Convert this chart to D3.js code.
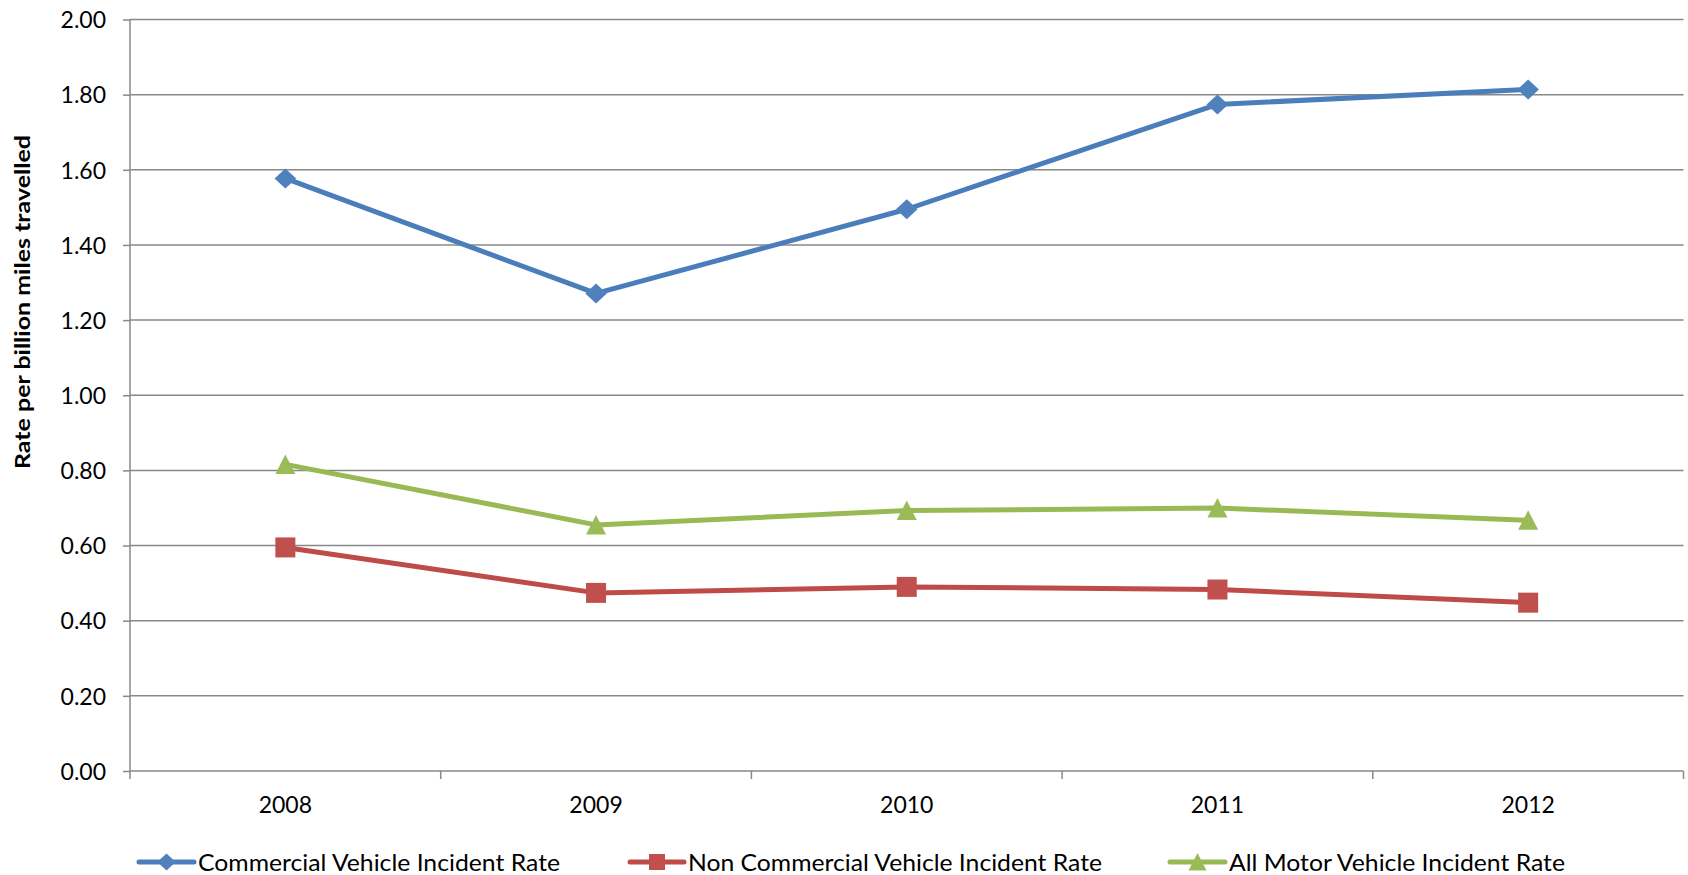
<!DOCTYPE html>
<html>
<head>
<meta charset="utf-8">
<script src="https://cdn.jsdelivr.net/npm/d3@7"></script>
<style>
  html, body { margin: 0; padding: 0; background: #fff; }
  svg { display: block; }
  text { font-family: Lato, "Open Sans", sans-serif; fill: #000; }
</style>
</head>
<body>
<svg id="chart" width="1688" height="875"></svg>
<script>
// Incident rates per billion miles travelled, 2008-2012
const years = ["2008", "2009", "2010", "2011", "2012"];
const commercialRate    = [1.577, 1.271, 1.495, 1.774, 1.814];
const nonCommercialRate = [0.595, 0.474, 0.490, 0.483, 0.448];
const allMotorRate      = [0.816, 0.655, 0.693, 0.700, 0.667];
const seriesNames = [
  "Commercial Vehicle Incident Rate",
  "Non Commercial Vehicle Incident Rate",
  "All Motor Vehicle Incident Rate"
];
const yTicks = [0, 0.2, 0.4, 0.6, 0.8, 1.0, 1.2, 1.4, 1.6, 1.8, 2.0];
const yTitle = "Rate per billion miles travelled";

const svg = d3.select("#chart");
const plot = { left: 130, right: 1683.5, top: 19.5, bottom: 771 };

const x = d3.scaleBand().domain(years).range([plot.left, plot.right]).padding(0);
const y = d3.scaleLinear().domain([0, 2]).range([plot.bottom, plot.top]);
const cx = d => x(d) + x.bandwidth() / 2;

const gridColor = "#888888";

// horizontal gridlines
svg.append("g").selectAll("line")
  .data(yTicks.filter(v => v > 0))
  .join("line")
  .attr("x1", plot.left).attr("x2", plot.right)
  .attr("y1", d => y(d)).attr("y2", d => y(d))
  .attr("stroke", gridColor).attr("stroke-width", 1.5);

// value axis
const yAxis = d3.axisLeft(y).tickValues(yTicks).tickFormat(d3.format(".2f"))
  .tickSize(7).tickPadding(17);
const gy = svg.append("g").attr("transform", `translate(${plot.left},0)`).call(yAxis);
gy.select(".domain").remove();
gy.selectAll(".tick line").attr("stroke", gridColor).attr("stroke-width", 1.5);
gy.selectAll(".tick text")
  .style("font-family", "Lato, 'Open Sans', sans-serif")
  .style("font-size", "23px").attr("fill", "#000").attr("dy", "0.36em");
svg.append("line")
  .attr("x1", plot.left).attr("x2", plot.left)
  .attr("y1", y(2)).attr("y2", y(0) + 8)
  .attr("stroke", gridColor).attr("stroke-width", 1.5);

// category axis with ticks on the band boundaries
svg.append("line")
  .attr("x1", plot.left).attr("x2", plot.right)
  .attr("y1", y(0)).attr("y2", y(0))
  .attr("stroke", gridColor).attr("stroke-width", 1.5);
const boundaries = years.map(d => x(d)).concat([x.range()[1]]);
svg.append("g").selectAll("line")
  .data(boundaries.slice(1))
  .join("line")
  .attr("x1", d => d).attr("x2", d => d)
  .attr("y1", y(0)).attr("y2", y(0) + 8)
  .attr("stroke", gridColor).attr("stroke-width", 1.5);
svg.append("g").selectAll("text")
  .data(years)
  .join("text")
  .attr("x", d => cx(d)).attr("y", y(0) + 42)
  .attr("text-anchor", "middle")
  .style("font-size", "23px")
  .text(d => d);

// y axis title
svg.append("text")
  .attr("transform", `translate(30,302) rotate(-90)`)
  .attr("text-anchor", "middle")
  .style("font-size", "20px").style("font-weight", "bold")
  .attr("textLength", 334).attr("lengthAdjust", "spacingAndGlyphs")
  .text(yTitle);

// marker shapes
const diamond = {
  draw(ctx, size) {
    const r = Math.sqrt(size) / 2;
    ctx.moveTo(0, -r); ctx.lineTo(r * 1.08, 0); ctx.lineTo(0, r); ctx.lineTo(-r * 1.08, 0); ctx.closePath();
  }
};
const square = {
  draw(ctx, size) {
    const h = Math.sqrt(size) / 2;
    ctx.rect(-h, -h, 2 * h, 2 * h);
  }
};
const triangle = {
  draw(ctx, size) {
    const h = Math.sqrt(size) / 2;
    ctx.moveTo(0, -h); ctx.lineTo(h, h * 0.95); ctx.lineTo(-h, h * 0.95); ctx.closePath();
  }
};

const series = [
  { name: seriesNames[0], values: commercialRate,    line: "#4A7EBB", fill: "#4F81BD", shape: diamond,  size: 400, legendSize: 290 },
  { name: seriesNames[1], values: nonCommercialRate, line: "#BE4B48", fill: "#C0504D", shape: square,   size: 400, legendSize: 256 },
  { name: seriesNames[2], values: allMotorRate,      line: "#98B954", fill: "#9BBB59", shape: triangle, size: 400, legendSize: 324 }
];

const lineGen = d3.line().x((d, i) => cx(years[i])).y(d => y(d));

// draw order: green, red, blue last on top
[2, 1, 0].forEach(k => {
  const s = series[k];
  const g = svg.append("g");
  g.append("path")
    .attr("d", lineGen(s.values))
    .attr("fill", "none")
    .attr("stroke", s.line).attr("stroke-width", 5)
    .attr("stroke-linejoin", "round").attr("stroke-linecap", "round");
  g.selectAll("path.m")
    .data(s.values)
    .join("path").attr("class", "m")
    .attr("transform", (d, i) => `translate(${cx(years[i])},${y(d)})`)
    .attr("d", d3.symbol(s.shape, s.size))
    .attr("fill", s.fill);
});

// legend
const legendY = 862;
const legendItems = [
  { lineStart: 139, lineEnd: 194, textX: 198, textLen: 362 },
  { lineStart: 630, lineEnd: 684, textX: 688, textLen: 414 },
  { lineStart: 1170, lineEnd: 1225, textX: 1229, textLen: 336 }
];
const lg = svg.append("g");
series.forEach((s, k) => {
  const it = legendItems[k];
  lg.append("line")
    .attr("x1", it.lineStart).attr("x2", it.lineEnd)
    .attr("y1", legendY).attr("y2", legendY)
    .attr("stroke", s.line).attr("stroke-width", 5).attr("stroke-linecap", "round");
  lg.append("path")
    .attr("transform", `translate(${(it.lineStart + it.lineEnd) / 2},${legendY})`)
    .attr("d", d3.symbol(s.shape, s.legendSize))
    .attr("fill", s.fill);
  lg.append("text")
    .attr("x", it.textX).attr("y", legendY + 9)
    .style("font-size", "23px")
    .attr("textLength", it.textLen).attr("lengthAdjust", "spacingAndGlyphs")
    .text(s.name);
});
</script>
</body>
</html>
